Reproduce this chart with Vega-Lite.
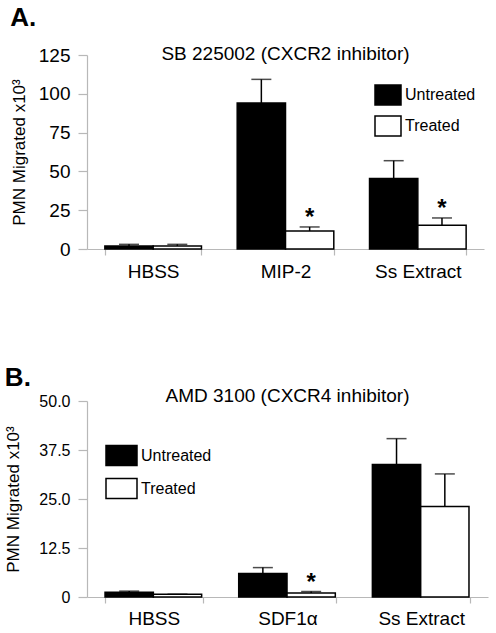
{
  "$schema": "https://vega.github.io/schema/vega-lite/v6.json",
  "padding": {"left": 4, "top": 5, "right": 5, "bottom": 2},
  "spacing": 84,
  "config": {
    "font": "Liberation Sans",
    "view": {"stroke": null},
    "title": {"font": "Liberation Sans", "color": "black"},
    "axis": {
      "labelFont": "Liberation Sans", "titleFont": "Liberation Sans",
      "labelColor": "black", "titleColor": "black",
      "domainColor": "#b8b8b8", "tickColor": "#b8b8b8", "domainWidth": 1.2, "tickWidth": 1.2,
      "grid": false, "labelOverlap": false
    },
    "legend": {"labelFont": "Liberation Sans", "labelColor": "black"}
  },
  "datasets": {
    "a": [
      {"cat": "HBSS", "trt": "Untreated", "val": 2.0, "hi": 3.0, "star": ""},
      {"cat": "HBSS", "trt": "Treated", "val": 2.0, "hi": 3.0, "star": ""},
      {"cat": "MIP-2", "trt": "Untreated", "val": 94, "hi": 109.3, "star": ""},
      {"cat": "MIP-2", "trt": "Treated", "val": 11.6, "hi": 14.2, "star": "*"},
      {"cat": "Ss Extract", "trt": "Untreated", "val": 45.5, "hi": 56.9, "star": ""},
      {"cat": "Ss Extract", "trt": "Treated", "val": 15.3, "hi": 20.0, "star": "*"}
    ],
    "b": [
      {"cat": "HBSS", "trt": "Untreated", "val": 1.2, "hi": 1.5, "star": ""},
      {"cat": "HBSS", "trt": "Treated", "val": 0.7, "hi": 0.7, "star": ""},
      {"cat": "SDF1α", "trt": "Untreated", "val": 6.0, "hi": 7.5, "star": ""},
      {"cat": "SDF1α", "trt": "Treated", "val": 1.0, "hi": 1.4, "star": "*"},
      {"cat": "Ss Extract", "trt": "Untreated", "val": 33.8, "hi": 40.4, "star": ""},
      {"cat": "Ss Extract", "trt": "Treated", "val": 23.1, "hi": 31.4, "star": ""}
    ]
  },
  "resolve": {"scale": {"color": "independent", "fill": "independent", "y": "independent", "x": "independent"}, "legend": {"color": "independent", "fill": "independent"}},
  "vconcat": [
    {
      "title": {"text": "A.", "anchor": "start", "frame": "bounds", "fontSize": 26, "fontWeight": "bold", "offset": 14},
      "resolve": {"scale": {"fill": "independent"}, "legend": {"fill": "independent"}},
      "vconcat": [
        {
          "title": {"text": "SB 225002 (CXCR2 inhibitor)", "fontSize": 19, "fontWeight": "normal", "anchor": "middle", "frame": "group", "offset": -18},
          "width": 397,
          "height": 194,
          "data": {"name": "a"},
          "encoding": {
            "x": {"field": "cat", "type": "nominal", "sort": ["HBSS", "MIP-2", "Ss Extract"],
              "scale": {"paddingInner": 0.27, "paddingOuter": 0.135},
              "axis": {"title": null, "labelAngle": 0, "labelFontSize": 19, "labelPadding": 7, "tickSize": 6, "tickBand": "extent"}},
            "xOffset": {"field": "trt", "type": "nominal", "sort": ["Untreated", "Treated"]},
            "y": {"field": "val", "type": "quantitative", "scale": {"domain": [0, 125], "nice": false},
              "axis": {"title": "PMN Migrated x10³", "titleFontSize": 17, "titleFontWeight": "normal", "titlePadding": 10,
                "values": [0, 25, 50, 75, 100, 125], "labelOverlap": false, "labelFontSize": 19, "tickSize": 9, "labelPadding": 8}}
          },
          "layer": [
            {
              "mark": {"type": "bar", "stroke": "black", "strokeWidth": 1.5},
              "encoding": {
                "fill": {"field": "trt", "type": "nominal", "sort": ["Untreated", "Treated"],
                  "scale": {"domain": ["Untreated", "Treated"], "range": ["black", "white"]},
                  "legend": {"title": null, "orient": "none", "legendX": 287, "legendY": 26, "padding": 0,
                    "symbolType": "M-1,-0.77H1V0.77H-1Z", "symbolSize": 676, "symbolStrokeColor": "black", "symbolStrokeWidth": 1.5,
                    "labelFontSize": 16, "labelOffset": 3, "rowPadding": 3, "symbolOpacity": 1}}
              }
            },
            {
              "mark": {"type": "rule", "color": "black", "strokeWidth": 1.5},
              "encoding": {"y2": {"field": "hi"}}
            },
            {
              "mark": {"type": "tick", "orient": "horizontal", "color": "black", "size": 20, "thickness": 1.5},
              "encoding": {"y": {"field": "hi", "type": "quantitative", "title": "PMN Migrated x10³",
                "axis": {"title": "PMN Migrated x10³", "titleFontSize": 17, "titleFontWeight": "normal", "titlePadding": 10,
                  "values": [0, 25, 50, 75, 100, 125], "labelOverlap": false, "labelFontSize": 19, "tickSize": 9, "labelPadding": 8}}}
            },
            {
              "transform": [{"filter": "datum.star == '*'"}],
              "mark": {"type": "text", "fontSize": 24, "fontWeight": "bold", "dy": -9, "baseline": "middle", "color": "black"},
              "encoding": {"y": {"field": "hi", "type": "quantitative", "title": "PMN Migrated x10³",
                "axis": {"title": "PMN Migrated x10³", "titleFontSize": 17, "titleFontWeight": "normal", "titlePadding": 10,
                  "values": [0, 25, 50, 75, 100, 125], "labelOverlap": false, "labelFontSize": 19, "tickSize": 9, "labelPadding": 8}},
                "text": {"field": "star"}}
            }
          ]
        }
      ]
    },
    {
      "title": {"text": "B.", "anchor": "start", "frame": "bounds", "fontSize": 26, "fontWeight": "bold", "offset": -4},
      "resolve": {"scale": {"fill": "independent"}, "legend": {"fill": "independent"}},
      "vconcat": [
        {
          "title": {"text": "AMD 3100 (CXCR4 inhibitor)", "fontSize": 19, "fontWeight": "normal", "anchor": "middle", "frame": "group", "offset": -13},
          "width": 401,
          "height": 196,
          "data": {"name": "b"},
          "encoding": {
            "x": {"field": "cat", "type": "nominal", "sort": ["HBSS", "SDF1α", "Ss Extract"],
              "scale": {"paddingInner": 0.27, "paddingOuter": 0.135},
              "axis": {"title": null, "labelAngle": 0, "labelFontSize": 19, "labelPadding": 6, "tickSize": 6, "tickBand": "extent"}},
            "xOffset": {"field": "trt", "type": "nominal", "sort": ["Untreated", "Treated"]},
            "y": {"field": "val", "type": "quantitative", "scale": {"domain": [0, 50], "nice": false},
              "axis": {"title": "PMN Migrated x10³", "titleFontSize": 17, "titleFontWeight": "normal", "titlePadding": 16,
                "values": [0, 12.5, 25, 37.5, 50], "labelOverlap": false, "labelExpr": "datum.value == 0 ? '0' : format(datum.value, '.1f')",
                "labelFontSize": 16, "tickSize": 9, "labelPadding": 8}}
          },
          "layer": [
            {
              "mark": {"type": "bar", "stroke": "black", "strokeWidth": 1.5},
              "encoding": {
                "fill": {"field": "trt", "type": "nominal", "sort": ["Untreated", "Treated"],
                  "scale": {"domain": ["Untreated", "Treated"], "range": ["black", "white"]},
                  "legend": {"title": null, "orient": "none", "legendX": 18, "legendY": 38, "padding": 0,
                    "symbolType": "M-1,-0.65H1V0.65H-1Z", "symbolSize": 961, "symbolStrokeColor": "black", "symbolStrokeWidth": 1.5,
                    "labelFontSize": 16, "labelOffset": 3, "rowPadding": 3, "symbolOpacity": 1}}
              }
            },
            {
              "mark": {"type": "rule", "color": "black", "strokeWidth": 1.5},
              "encoding": {"y2": {"field": "hi"}}
            },
            {
              "mark": {"type": "tick", "orient": "horizontal", "color": "black", "size": 20, "thickness": 1.5},
              "encoding": {"y": {"field": "hi", "type": "quantitative", "title": "PMN Migrated x10³",
                "axis": {"title": "PMN Migrated x10³", "titleFontSize": 17, "titleFontWeight": "normal", "titlePadding": 16,
                  "values": [0, 12.5, 25, 37.5, 50], "labelOverlap": false, "labelExpr": "datum.value == 0 ? '0' : format(datum.value, '.1f')",
                  "labelFontSize": 16, "tickSize": 9, "labelPadding": 8}}}
            },
            {
              "transform": [{"filter": "datum.star == '*'"}],
              "mark": {"type": "text", "fontSize": 24, "fontWeight": "bold", "dy": -9, "baseline": "middle", "color": "black"},
              "encoding": {"y": {"field": "hi", "type": "quantitative", "title": "PMN Migrated x10³",
                "axis": {"title": "PMN Migrated x10³", "titleFontSize": 17, "titleFontWeight": "normal", "titlePadding": 16,
                  "values": [0, 12.5, 25, 37.5, 50], "labelOverlap": false, "labelExpr": "datum.value == 0 ? '0' : format(datum.value, '.1f')",
                  "labelFontSize": 16, "tickSize": 9, "labelPadding": 8}},
                "text": {"field": "star"}}
            }
          ]
        }
      ]
    }
  ]
}
